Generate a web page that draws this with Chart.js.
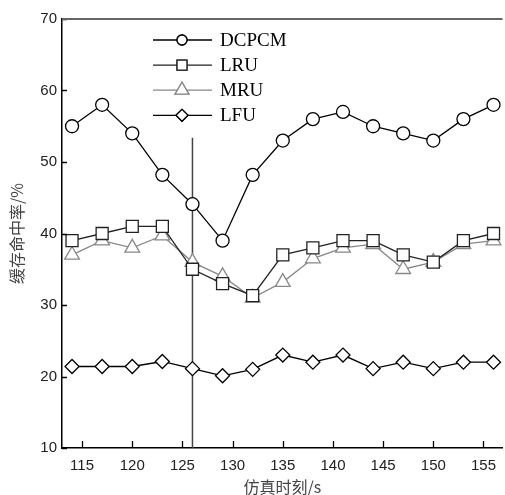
<!DOCTYPE html>
<html>
<head>
<meta charset="utf-8">
<script src="https://cdn.jsdelivr.net/npm/chart.js@4.4.0/dist/chart.umd.min.js"></script>
<style>
  html, body { margin: 0; padding: 0; background: #fff; }
</style>
</head>
<body>
<canvas id="hitChart" width="505" height="495"></canvas>
<script>
// simulation time (s)
const times = [114, 117, 120, 123, 126, 129, 132, 135, 138, 141, 144, 147, 150, 153, 156];

// cache hit rate (%) per policy
const dcpcm = [55, 58, 54, 48.2, 44.1, 39, 48.2, 53, 56, 57, 55, 54, 53, 56, 58];
const lru   = [39, 40, 41, 41, 35, 33, 31.3, 37, 38, 39, 39, 37, 36, 39, 40];
const mru   = [37, 39, 38, 39.7, 36, 34, 31, 33.2, 36.5, 38, 38.5, 35, 36, 38.5, 39];
const lfu   = [21.4, 21.4, 21.4, 22.1, 21.1, 20.1, 21, 23, 22, 23, 21.1, 22, 21.1, 22, 22];

// vertical marker
const markerTime = 126;
const markerRange = [10, 53.4];

const xTicks = [115, 120, 125, 130, 135, 140, 145, 150, 155];
const yTicks = [10, 20, 30, 40, 50, 60, 70];

const xTitle = '仿真时刻/s';
const yTitle = '缓存命中率/%';

function toPoints(values) {
  return values.map((v, i) => ({ x: times[i], y: v }));
}

const series = [
  { label: 'DCPCM', data: dcpcm, color: '#000', style: 'circle',   radius: 6.5, keyRadius: 5 },
  { label: 'LRU',   data: lru,   color: '#222', style: 'rect',     radius: 8.5, keyRadius: 7 },
  { label: 'MRU',   data: mru,   color: '#888', style: 'triangle', radius: 8.5, keyRadius: 8 },
  { label: 'LFU',   data: lfu,   color: '#000', style: 'rectRot',  radius: 7,   keyRadius: 6 }
];

const datasets = series.map(s => ({
  label: s.label,
  data: toPoints(s.data),
  borderColor: s.color,
  borderWidth: 1.3,
  pointStyle: s.style,
  pointRadius: s.radius,
  pointBorderColor: s.color,
  pointBackgroundColor: '#fff',
  pointBorderWidth: 1.3,
  tension: 0
}));

datasets.push({
  label: 'marker',
  data: markerRange.map(v => ({ x: markerTime, y: v })),
  borderColor: '#444',
  borderWidth: 1.5,
  pointRadius: 0,
  order: 10
});

// short ticks pointing into the plot, top frame line, axis titles
const frame = {
  id: 'frame',
  afterDraw(chart) {
    const { ctx, chartArea: a, scales: { x, y } } = chart;
    ctx.save();
    ctx.strokeStyle = '#000';
    ctx.lineWidth = 1.3;
    ctx.beginPath();
    xTicks.forEach(v => {
      const px = Math.round(x.getPixelForValue(v)) + 0.5;
      ctx.moveTo(px, a.bottom);
      ctx.lineTo(px, a.bottom - 7);
    });
    yTicks.forEach(v => {
      const py = Math.round(y.getPixelForValue(v)) + 0.5;
      ctx.moveTo(a.left, py);
      ctx.lineTo(a.left + 5, py);
    });
    ctx.stroke();

    ctx.strokeStyle = '#666';
    ctx.lineWidth = 2;
    ctx.beginPath();
    ctx.moveTo(a.left, a.top);
    ctx.lineTo(a.right, a.top);
    ctx.stroke();

    ctx.fillStyle = '#444';
    ctx.font = '16px "Noto Sans CJK SC"';
    ctx.textAlign = 'center';
    ctx.textBaseline = 'middle';
    ctx.fillText(xTitle, (a.left + a.right) / 2, 487);
    ctx.translate(17, (a.top + a.bottom) / 2);
    ctx.rotate(-Math.PI / 2);
    ctx.fillText(yTitle, 0, 0);
    ctx.restore();
  }
};

// legend with the line running through the marker
const lineLegend = {
  id: 'lineLegend',
  afterDraw(chart) {
    const ctx = chart.ctx;
    ctx.save();
    series.forEach((s, i) => {
      const yy = 40 + i * 25.1;
      ctx.strokeStyle = s.color;
      ctx.lineWidth = 1.3;
      ctx.beginPath();
      ctx.moveTo(153, yy);
      ctx.lineTo(212, yy);
      ctx.stroke();
      ctx.fillStyle = '#fff';
      Chart.helpers.drawPoint(ctx, {
        pointStyle: s.style, radius: s.keyRadius, rotation: 0, borderWidth: 1.3
      }, 182, yy);
      ctx.fill();
      ctx.stroke();
      ctx.fillStyle = '#000';
      ctx.font = '19px "Liberation Serif"';
      ctx.textAlign = 'left';
      ctx.textBaseline = 'middle';
      ctx.fillText(s.label, 220, yy + 1);
    });
    ctx.restore();
  }
};

new Chart(document.getElementById('hitChart'), {
  type: 'line',
  data: { datasets },
  options: {
    responsive: false,
    animation: false,
    devicePixelRatio: 1,
    layout: { autoPadding: false, padding: { top: 19, right: 0, left: 0, bottom: 0 } },
    plugins: {
      legend: { display: false },
      tooltip: { enabled: false }
    },
    scales: {
      x: {
        type: 'linear',
        min: 113,
        max: 156.9,
        afterBuildTicks: scale => { scale.ticks = xTicks.map(v => ({ value: v })); },
        afterFit: scale => { scale.height = 47; },
        grid: { display: false, drawTicks: false },
        border: { display: true, color: '#000', width: 1.5 },
        ticks: {
          autoSkip: false,
          maxRotation: 0,
          padding: 9,
          color: '#222',
          font: { family: '"Liberation Sans"', size: 15 }
        }
      },
      y: {
        min: 10,
        max: 70,
        afterBuildTicks: scale => { scale.ticks = yTicks.map(v => ({ value: v })); },
        afterFit: scale => { scale.width = 62; },
        grid: { display: false, drawTicks: false },
        border: { display: true, color: '#000', width: 1.5 },
        ticks: {
          padding: 5,
          color: '#222',
          font: { family: '"Liberation Sans"', size: 15 }
        }
      }
    }
  },
  plugins: [frame, lineLegend]
});
</script>
</body>
</html>
